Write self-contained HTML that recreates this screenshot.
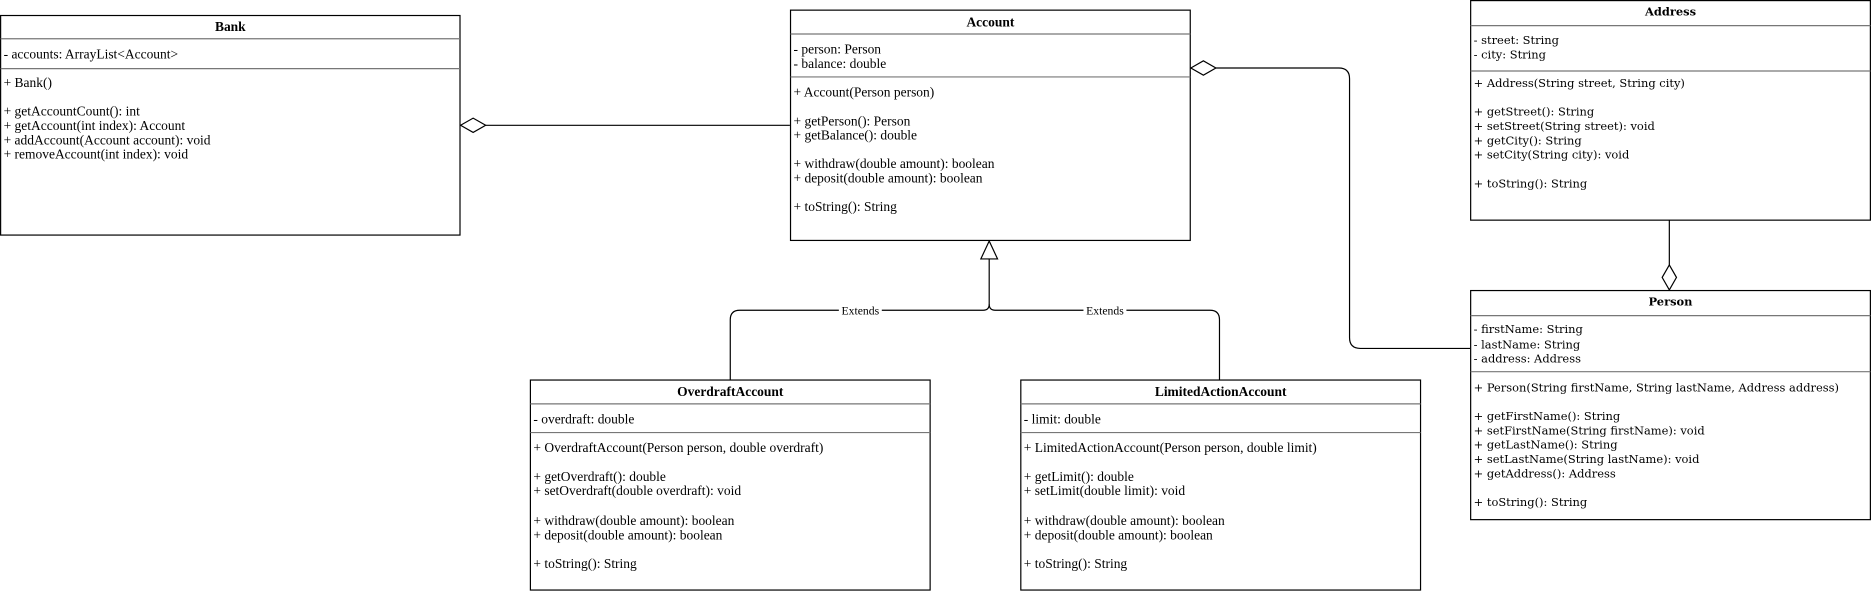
<!DOCTYPE html>
<html><head><meta charset="utf-8"><style>html,body{margin:0;padding:0;background:#fff}svg{display:block}</style></head><body>
<svg width="1871" height="591" viewBox="0 0 1568 495.3" xmlns="http://www.w3.org/2000/svg">
<defs><style>
.n{font-family:"Liberation Serif",serif;font-size:11.3px;fill:#000}
.d{font-family:"DejaVu Serif",serif;font-size:9.6px;fill:#000}
.b{font-weight:bold}
.box{fill:#fff;stroke:#000;stroke-width:1}
.sep{stroke:#777;stroke-width:1}
.ln{fill:none;stroke:#000;stroke-width:1}
</style></defs>

<path class="ln" d="M407 105 H662"/>
<polygon points="386,105 396.5,99 407,105 396.5,111" fill="#fff" stroke="#000"/>
<path class="ln" d="M1019 57 H1122 Q1131 57 1131 66 V283 Q1131 292 1140 292 H1232"/>
<polygon points="998,57 1008.5,51 1019,57 1008.5,63" fill="#fff" stroke="#000"/>
<path class="ln" d="M1399 184 V222"/>
<polygon points="1399,222 1405,232.5 1399,243 1393,232.5" fill="#fff" stroke="#000"/>
<path class="ln" d="M829 217 V255 Q829 260 824 260 H620 Q612 260 612 268 V318"/>
<path class="ln" d="M829 255 Q829 260 834 260 H1014 Q1022 260 1022 268 V318"/>
<polygon points="829,202 836,217 822,217" fill="#fff" stroke="#000"/>
<rect x="703" y="254" width="36" height="12" fill="#fff"/>
<text class="n" x="721" y="263.5" text-anchor="middle" style="font-size:9.8px">Extends</text>
<rect x="908" y="254" width="36" height="12" fill="#fff"/>
<text class="n" x="926" y="263.5" text-anchor="middle" style="font-size:9.8px">Extends</text>

<rect class="box" x="0.5" y="13" width="385" height="184"/>
<line class="sep" x1="0.5" y1="32.5" x2="385.5" y2="32.5"/>
<line class="sep" x1="0.5" y1="57.5" x2="385.5" y2="57.5"/>
<text class="n b" x="193" y="26" text-anchor="middle">Bank</text>
<text class="n" x="3" y="49">- accounts: ArrayList&lt;Account&gt;</text>
<text class="n" x="3" y="73">+ Bank()</text>
<text class="n" x="3" y="97">+ getAccountCount(): int</text>
<text class="n" x="3" y="109">+ getAccount(int index): Account</text>
<text class="n" x="3" y="121">+ addAccount(Account account): void</text>
<text class="n" x="3" y="133">+ removeAccount(int index): void</text>

<rect class="box" x="662.5" y="8.5" width="335" height="193"/>
<line class="sep" x1="662.5" y1="28.5" x2="997.5" y2="28.5"/>
<line class="sep" x1="662.5" y1="64.5" x2="997.5" y2="64.5"/>
<text class="n b" x="830" y="22" text-anchor="middle">Account</text>
<text class="n" x="665" y="45">- person: Person</text>
<text class="n" x="665" y="57">- balance: double</text>
<text class="n" x="665" y="81">+ Account(Person person)</text>
<text class="n" x="665" y="105">+ getPerson(): Person</text>
<text class="n" x="665" y="117">+ getBalance(): double</text>
<text class="n" x="665" y="141">+ withdraw(double amount): boolean</text>
<text class="n" x="665" y="153">+ deposit(double amount): boolean</text>
<text class="n" x="665" y="177">+ toString(): String</text>

<rect class="box" x="1232.5" y="0.5" width="335" height="184"/>
<line class="sep" x1="1232.5" y1="21.5" x2="1567.5" y2="21.5"/>
<line class="sep" x1="1232.5" y1="59.5" x2="1567.5" y2="59.5"/>
<text class="d b" x="1400" y="13" text-anchor="middle">Address</text>
<text class="d" x="1235" y="37">- street: String</text>
<text class="d" x="1235" y="49">- city: String</text>
<text class="d" x="1235" y="73">+ Address(String street, String city)</text>
<text class="d" x="1235" y="97">+ getStreet(): String</text>
<text class="d" x="1235" y="109">+ setStreet(String street): void</text>
<text class="d" x="1235" y="121">+ getCity(): String</text>
<text class="d" x="1235" y="133">+ setCity(String city): void</text>
<text class="d" x="1235" y="157">+ toString(): String</text>

<rect class="box" x="1232.5" y="243.5" width="335" height="192"/>
<line class="sep" x1="1232.5" y1="264.5" x2="1567.5" y2="264.5"/>
<line class="sep" x1="1232.5" y1="311.5" x2="1567.5" y2="311.5"/>
<text class="d b" x="1400" y="256" text-anchor="middle">Person</text>
<text class="d" x="1235" y="279">- firstName: String</text>
<text class="d" x="1235" y="292">- lastName: String</text>
<text class="d" x="1235" y="304">- address: Address</text>
<text class="d" x="1235" y="328">+ Person(String firstName, String lastName, Address address)</text>
<text class="d" x="1235" y="352">+ getFirstName(): String</text>
<text class="d" x="1235" y="364">+ setFirstName(String firstName): void</text>
<text class="d" x="1235" y="376">+ getLastName(): String</text>
<text class="d" x="1235" y="388">+ setLastName(String lastName): void</text>
<text class="d" x="1235" y="400">+ getAddress(): Address</text>
<text class="d" x="1235" y="424">+ toString(): String</text>

<rect class="box" x="444.5" y="318.5" width="335" height="176"/>
<line class="sep" x1="444.5" y1="338.5" x2="779.5" y2="338.5"/>
<line class="sep" x1="444.5" y1="362.5" x2="779.5" y2="362.5"/>
<text class="n b" x="612" y="332" text-anchor="middle">OverdraftAccount</text>
<text class="n" x="447" y="355">- overdraft: double</text>
<text class="n" x="447" y="379">+ OverdraftAccount(Person person, double overdraft)</text>
<text class="n" x="447" y="403">+ getOverdraft(): double</text>
<text class="n" x="447" y="415">+ setOverdraft(double overdraft): void</text>
<text class="n" x="447" y="440">+ withdraw(double amount): boolean</text>
<text class="n" x="447" y="452">+ deposit(double amount): boolean</text>
<text class="n" x="447" y="476">+ toString(): String</text>

<rect class="box" x="855.5" y="318.5" width="335" height="176"/>
<line class="sep" x1="855.5" y1="338.5" x2="1190.5" y2="338.5"/>
<line class="sep" x1="855.5" y1="362.5" x2="1190.5" y2="362.5"/>
<text class="n b" x="1023" y="332" text-anchor="middle">LimitedActionAccount</text>
<text class="n" x="858" y="355">- limit: double</text>
<text class="n" x="858" y="379">+ LimitedActionAccount(Person person, double limit)</text>
<text class="n" x="858" y="403">+ getLimit(): double</text>
<text class="n" x="858" y="415">+ setLimit(double limit): void</text>
<text class="n" x="858" y="440">+ withdraw(double amount): boolean</text>
<text class="n" x="858" y="452">+ deposit(double amount): boolean</text>
<text class="n" x="858" y="476">+ toString(): String</text>
</svg>
</body></html>
